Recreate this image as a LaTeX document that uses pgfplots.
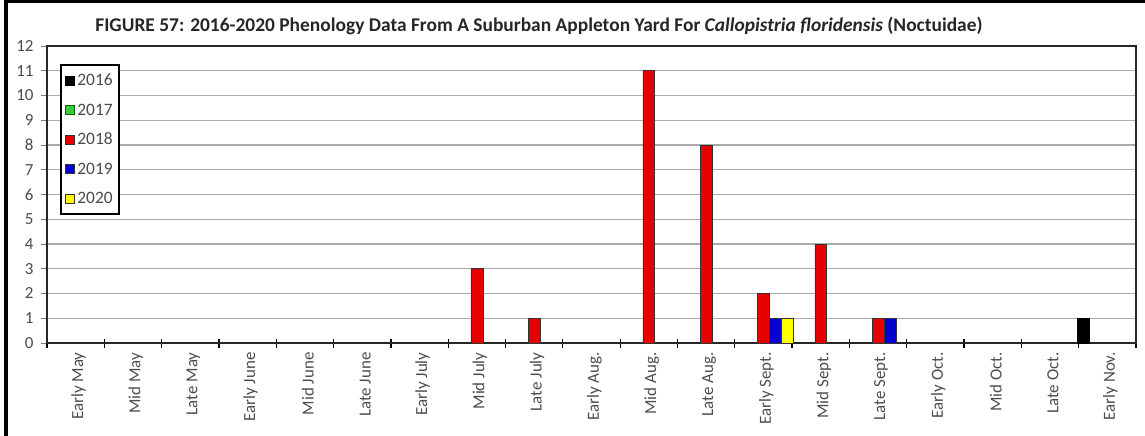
\documentclass[border=0pt]{standalone}
\usepackage{pgfplots}
\pgfplotsset{compat=1.18}
\usepackage{fontspec}
\setmainfont{Carlito}
\definecolor{barred}{RGB}{230,0,0}
\definecolor{barblue}{RGB}{0,0,210}
\definecolor{baryellow}{RGB}{255,255,0}
\definecolor{bargreen}{RGB}{60,200,60}
\definecolor{gridgray}{RGB}{170,170,170}
\begin{document}
\begin{tikzpicture}
\path[use as bounding box] (-47bp,-93bp) rectangle (1098bp,343bp);
\draw[line width=3.5bp] (-41bp,-95bp) -- (-41bp,341.5bp) -- (1100bp,341.5bp);
\begin{axis}[
  at={(0,0)}, anchor=south west,
  scale only axis, width=1089bp, height=297bp,
  xmin=-0.5, xmax=18.5, ymin=0, ymax=12,
  xtick={0,...,18},
  xticklabels={Early May,Mid May,Late May,Early June,Mid June,Late June,Early July,Mid July,Late July,Early Aug.,Mid Aug.,Late Aug.,Early Sept.,Mid Sept.,Late Sept.,Early Oct.,Mid Oct.,Late Oct.,Early Nov.},
  major x tick style={draw=none},
  minor xtick={-0.5,0.5,...,18.5},
  minor x tick style={line width=1.3bp, black},
  minor tick length=9bp,
  xtick align=center,
  xtick pos=bottom,
  ytick={0,...,12},
  ytick pos=left,
  ytick align=outside,
  major tick length=6bp,
  y tick style={line width=0.9bp, gridgray!70!black},
  ymajorgrids,
  grid style={gridgray, line width=1.1bp},
  axis line style={line width=1.8bp, black!85},
  /pgf/number format/assume math mode=true,
  yticklabel style={font=\fontsize{17}{18}\selectfont, text=black!70, xshift=-4bp},
  xticklabel style={font=\fontsize{17}{18}\selectfont, text=black!70, rotate=90, anchor=east, yshift=-3bp, xshift=-3bp},
  legend cell align=left,
  legend style={at={(0.012,0.939)}, anchor=north west, draw=black, line width=1.8bp,
    font=\fontsize{17.5}{18}\selectfont, text=black!70, row sep=12.5bp, inner xsep=4.5bp, inner ysep=7bp},
  legend image code/.code={\draw[#1, line width=0.9bp] (0bp,-4.5bp) rectangle (9bp,4.5bp);},
]
\addplot[ybar, bar width=0.208, bar shift=-0.416, fill=black, draw=black, line width=0.6bp]
  coordinates {(18,1)};
\addlegendentry{2016}
\addlegendimage{fill=bargreen, draw=green!40!black}
\addlegendentry{2017}
\addplot[ybar, bar width=0.208, bar shift=0, fill=barred, draw=black!80, line width=0.6bp]
  coordinates {(7,3) (8,1) (10,11) (11,8) (12,2) (13,4) (14,1)};
\addlegendentry{2018}
\addplot[ybar, bar width=0.208, bar shift=0.208, fill=barblue, draw=black!80, line width=0.6bp]
  coordinates {(12,1) (14,1)};
\addlegendentry{2019}
\addplot[ybar, bar width=0.208, bar shift=0.416, fill=baryellow, draw=black!80, line width=0.6bp]
  coordinates {(12,1)};
\addlegendentry{2020}
\end{axis}
\node[font=\fontsize{19.5}{21}\selectfont\bfseries, text=black!85] at (492bp,317bp)
  {FIGURE 57: 2016-2020 Phenology Data From A Suburban Appleton Yard For \textit{Callopistria floridensis} (Noctuidae)};
\end{tikzpicture}
\end{document}
